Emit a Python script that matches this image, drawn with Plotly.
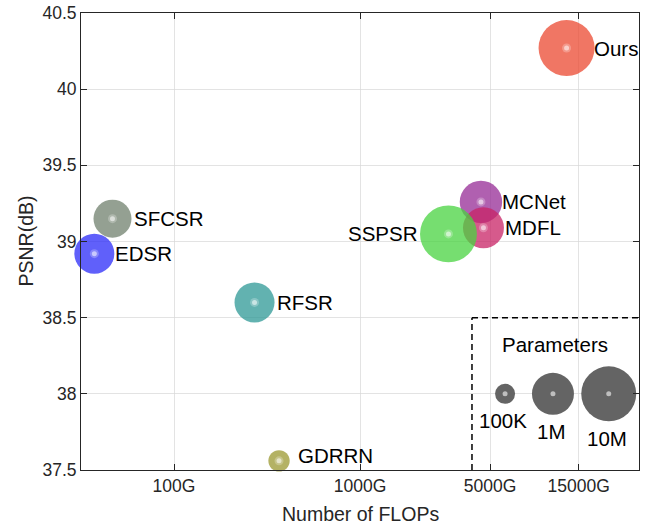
import numpy as np
import plotly.graph_objects as go

# ---- data -------------------------------------------------------------
methods = ["Ours", "MCNet", "MDFL", "SSPSR", "SFCSR", "EDSR", "RFSR", "GDRRN"]
flops_g = [12900, 4470, 4610, 2990, 46.7, 37.3, 271, 367]
psnr_db = [40.27, 39.26, 39.09, 39.05, 39.15, 38.92, 38.60, 37.56]
params_m = [12.0, 1.07, 0.90, 14.0, 0.66, 0.81, 0.81, 0.115]

legend_labels = ["100K", "1M", "10M"]
legend_params_m = [0.1, 1.0, 10.0]
legend_flops_g = [6025, 10900, 21740]
legend_psnr_db = [38.0, 38.0, 38.0]

x_tick_vals = [100, 1000, 5000, 15000]
x_tick_text = ["100G", "1000G", "5000G", "15000G"]
y_tick_vals = [37.5, 38, 38.5, 39, 39.5, 40, 40.5]

# ---- styling ------------------------------------------------------------
FONT = "Liberation Sans, Arial, Helvetica, sans-serif"
AXIS_COLOR = "#262626"
colors = {
    "Ours": "rgb(235,72,48)",
    "MCNet": "rgb(150,43,150)",
    "MDFL": "rgb(200,35,102)",
    "SSPSR": "rgb(72,211,64)",
    "SFCSR": "rgb(112,128,110)",
    "EDSR": "rgb(43,43,248)",
    "RFSR": "rgb(46,152,150)",
    "GDRRN": "rgb(155,152,48)",
}
BUBBLE_OPACITY = 0.75
label_dx = {"Ours": 27.5, "MCNet": 21.5, "MDFL": 21.5, "SSPSR": -30,
            "SFCSR": 22, "EDSR": 21, "RFSR": 22, "GDRRN": 18.5}
label_dy = {"GDRRN": 5}

X_RANGE = [1.5, 4.5]      # log10 of 31.6G .. 31623G
Y_RANGE = [37.5, 40.5]
KEY_BOX = dict(x_left_g=4000, y_top=38.5)


def bubble_px(p):
    """Marker diameter (px) for a parameter count given in millions."""
    lp = np.log10(p)
    if lp >= 1:
        return 55 + (lp - 1) * 13
    if lp <= -1:
        return 20 + (lp + 1) * 22
    return float(np.interp(lp, [-1, 0, 1], [20, 42, 55]))


def x_paper(g):
    """Position of a FLOPs value as a fraction of the x axis width."""
    return (np.log10(g) - X_RANGE[0]) / (X_RANGE[1] - X_RANGE[0])


fig = go.Figure()

# method bubbles
for name, fx, py, pm in zip(methods, flops_g, psnr_db, params_m):
    d = bubble_px(pm)
    fig.add_trace(go.Scatter(
        x=[fx], y=[py], mode="markers", cliponaxis=False, showlegend=False,
        marker=dict(size=d, color=colors[name], opacity=BUBBLE_OPACITY,
                    line=dict(width=0)),
    ))

# centre dots of method bubbles
fig.add_trace(go.Scatter(
    x=flops_g, y=psnr_db, mode="markers", cliponaxis=False, showlegend=False,
    marker=dict(size=9, color="rgba(255,255,255,0.25)", opacity=1,
                line=dict(width=0)),
))
fig.add_trace(go.Scatter(
    x=flops_g, y=psnr_db, mode="markers", cliponaxis=False, showlegend=False,
    marker=dict(size=5, color="rgba(255,255,255,0.55)", opacity=1,
                line=dict(width=0)),
))

# size key bubbles
legend_sizes = [bubble_px(p) for p in legend_params_m]
fig.add_trace(go.Scatter(
    x=legend_flops_g, y=legend_psnr_db, mode="markers", cliponaxis=False,
    showlegend=False,
    marker=dict(size=legend_sizes, color="rgb(100,100,100)", opacity=1,
                line=dict(width=0)),
))
fig.add_trace(go.Scatter(
    x=legend_flops_g, y=legend_psnr_db, mode="markers", cliponaxis=False,
    showlegend=False,
    marker=dict(size=5, color="rgb(190,190,190)", opacity=1, line=dict(width=0)),
))

annotations = []
for name, fx, py in zip(methods, flops_g, psnr_db):
    dx = label_dx[name]
    annotations.append(dict(
        x=np.log10(fx), y=py, xref="x", yref="y", text=name, showarrow=False,
        xanchor="left" if dx > 0 else "right", yanchor="middle",
        xshift=dx, yshift=label_dy.get(name, 0),
        font=dict(family=FONT, size=20.5, color="black"),
        borderpad=0, borderwidth=0,
    ))

for lab, fx, py, d in zip(legend_labels, legend_flops_g, legend_psnr_db, legend_sizes):
    annotations.append(dict(
        x=np.log10(fx), y=py, xref="x", yref="y", text=lab, showarrow=False,
        xanchor="center", yanchor="middle", xshift=-2, yshift=-(d / 2 + 17),
        font=dict(family=FONT, size=20.5, color="black"),
        borderpad=0, borderwidth=0,
    ))

annotations.append(dict(
    x=4.05, y=38.324, xref="x", yref="y", text="Parameters", showarrow=False,
    xanchor="center", yanchor="middle",
    font=dict(family=FONT, size=20.5, color="black"), borderpad=0, borderwidth=0,
))

# axis titles
annotations.append(dict(
    x=0.5, y=0, xref="paper", yref="paper", text="Number of FLOPs",
    showarrow=False, xanchor="center", yanchor="middle", yshift=-44,
    font=dict(family=FONT, size=19.5, color=AXIS_COLOR), borderpad=0, borderwidth=0,
))
annotations.append(dict(
    x=0, y=0.5, xref="paper", yref="paper", text="PSNR(dB)", textangle=-90,
    showarrow=False, xanchor="center", yanchor="middle", xshift=-56,
    font=dict(family=FONT, size=19.5, color=AXIS_COLOR), borderpad=0, borderwidth=0,
))

# dashed frame around the size key (its bottom and right sides are the axes)
dash_line = dict(color="black", width=1.5, dash="6px,4px")
xl = x_paper(KEY_BOX["x_left_g"])
shapes = [
    dict(type="line", xref="paper", yref="y", x0=xl, x1=xl,
         y0=Y_RANGE[0], y1=KEY_BOX["y_top"], line=dash_line, layer="above"),
    dict(type="line", xref="paper", yref="y", x0=xl, x1=1.0,
         y0=KEY_BOX["y_top"], y1=KEY_BOX["y_top"], line=dash_line, layer="above"),
]

axis_common = dict(
    showline=True, linecolor=AXIS_COLOR, linewidth=1, mirror="allticks",
    ticks="inside", ticklen=6, tickwidth=1, tickcolor=AXIS_COLOR,
    showgrid=True, gridcolor="rgba(215,215,215,0.7)", gridwidth=1,
    zeroline=False, layer="above traces", automargin=False,
    tickfont=dict(family=FONT, size=17.5, color=AXIS_COLOR),
)

fig.update_layout(
    width=652, height=524,
    margin=dict(l=81, r=13, t=13, b=54),
    paper_bgcolor="white", plot_bgcolor="white",
    xaxis=dict(type="log", range=X_RANGE, tickvals=x_tick_vals,
               ticktext=x_tick_text, **axis_common),
    yaxis=dict(range=Y_RANGE, tickvals=y_tick_vals, **axis_common),
    annotations=annotations, shapes=shapes,
)

fig.write_html("out.html")
